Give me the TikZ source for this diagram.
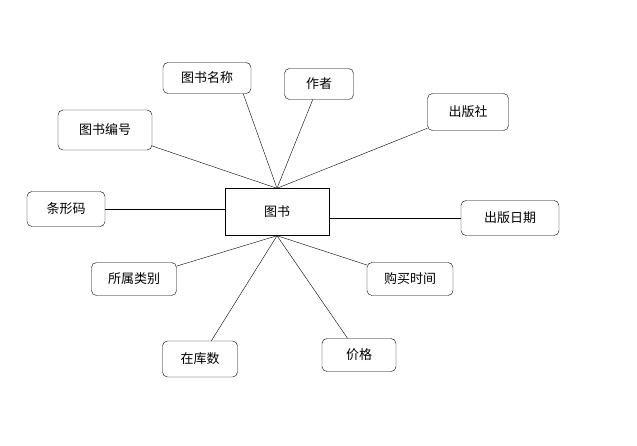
\documentclass[tikz,border=0pt]{standalone}
\usepackage{fontspec}
\setmainfont{Noto Sans CJK SC}
\usetikzlibrary{positioning}
\begin{document}
\begin{tikzpicture}[x=1pt,y=-1pt,
    attr/.style={draw, rounded corners=5pt, font=\fontsize{13}{15}\selectfont, inner sep=0pt},
    ent/.style={draw, font=\fontsize{13}{15}\selectfont, inner sep=0pt}
  ]
    \useasboundingbox (0,0) rectangle (637,445);
    \node[ent, minimum width=104pt, minimum height=47pt] (book) at (277,212) {图书};
    \node[attr, minimum width=88pt, minimum height=31pt] (name) at (207,78) {图书名称};
    \node[attr, minimum width=69pt, minimum height=31pt] (author) at (319,84) {作者};
    \node[attr, minimum width=81pt, minimum height=37pt] (press) at (468,112) {出版社};
    \node[attr, minimum width=94pt, minimum height=40pt] (isbn) at (105,130) {图书编号};
    \node[attr, minimum width=78pt, minimum height=35pt] (barcode) at (66,209) {条形码};
    \node[attr, minimum width=98pt, minimum height=35pt] (date) at (510,218) {出版日期};
    \node[attr, minimum width=85pt, minimum height=33pt] (category) at (134,279) {所属类别};
    \node[attr, minimum width=86pt, minimum height=33pt] (buy) at (410,279) {购买时间};
    \node[attr, minimum width=75pt, minimum height=36pt] (stock) at (200,359) {在库数};
    \node[attr, minimum width=74pt, minimum height=33pt] (price) at (359,355) {价格};
    % connectors
    \draw (name.south east) ++(-8,0) coordinate (n1) -- (book.north);
    \draw (author) -- (book.north);
    \draw (press) -- (book.north);
    \draw (isbn) -- (book.north);
    \draw (barcode.east) -- (barcode.east -| book.west);
    \draw (date.west) -- (date.west -| book.east);
    \draw (category) -- (book.south);
    \draw (buy) -- (book.south);
    \draw (stock) -- (book.south);
    \draw (price) -- (book.south);
\end{tikzpicture}
\end{document}
